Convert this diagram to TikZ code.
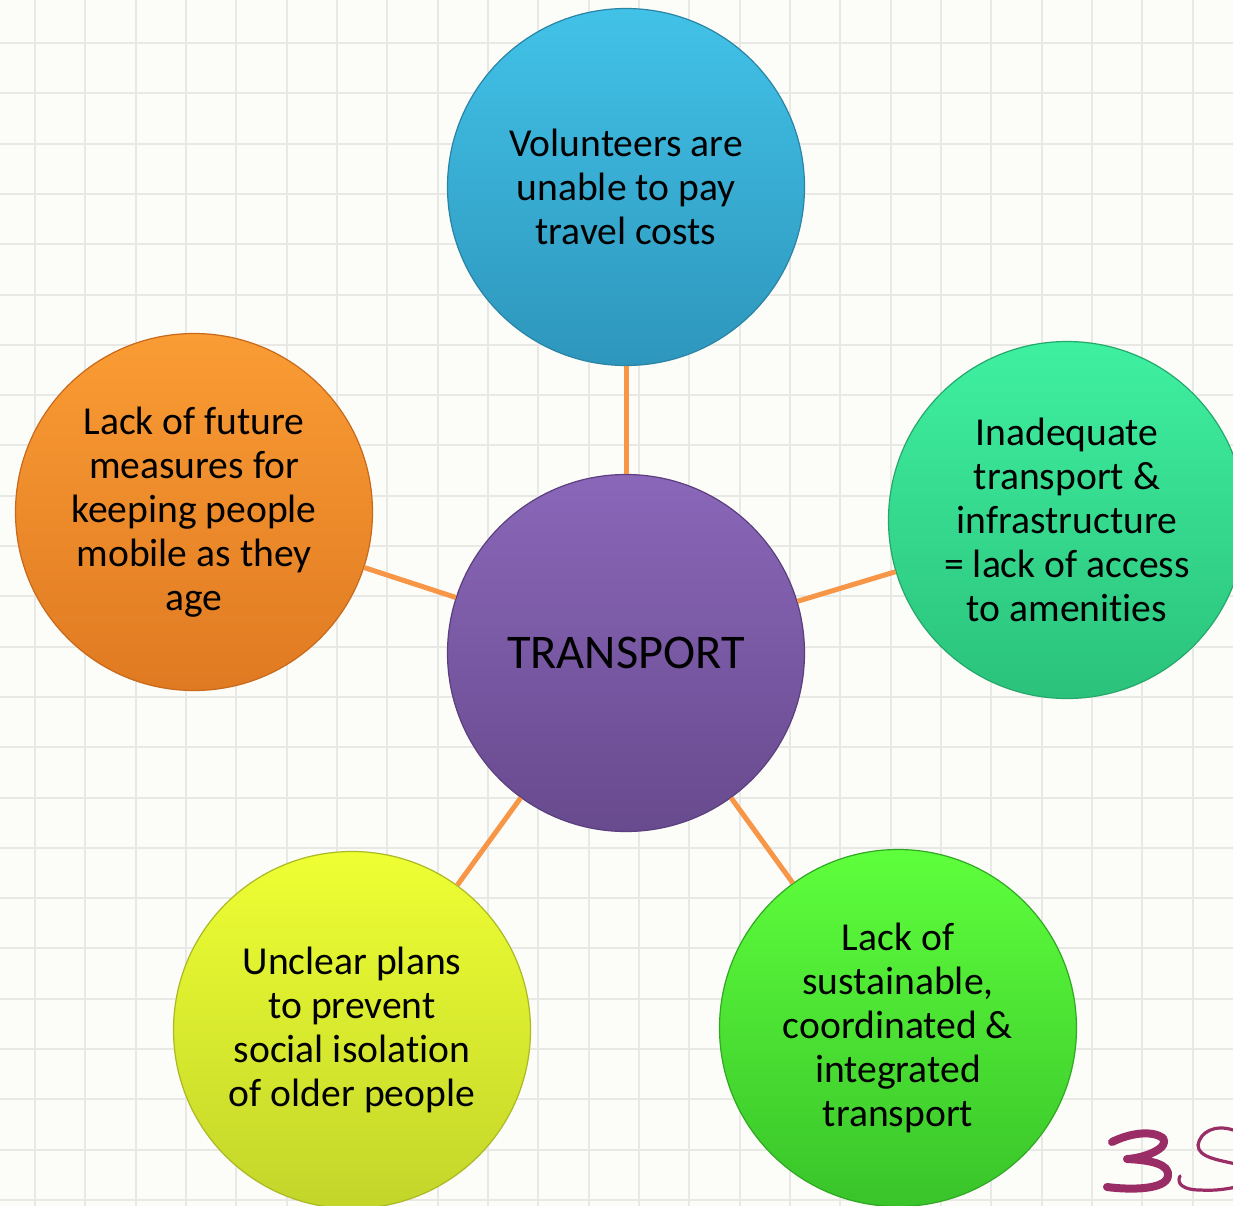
\documentclass[tikz,border=0pt]{standalone}
\usepackage{fontspec}
\setmainfont[Ligatures=NoCommon]{Carlito}
\definecolor{bgcol}{HTML}{FCFCF8}
\definecolor{gridcol}{HTML}{E8E8E4}
\definecolor{linkorange}{HTML}{F79646}
\definecolor{handcol}{HTML}{9A2D66}
\definecolor{blueT}{HTML}{42C2E8}
\definecolor{blueB}{HTML}{2E96BC}
\definecolor{blueE}{HTML}{2A84A6}
\definecolor{purpT}{HTML}{8A67B9}
\definecolor{purpB}{HTML}{684A8E}
\definecolor{purpE}{HTML}{5B3F7E}
\definecolor{oranT}{HTML}{FA9C34}
\definecolor{oranB}{HTML}{E07A22}
\definecolor{oranE}{HTML}{C8691B}
\definecolor{grnT}{HTML}{3FF0A1}
\definecolor{grnB}{HTML}{2BC27B}
\definecolor{grnE}{HTML}{25A86A}
\definecolor{yelT}{HTML}{EEFF33}
\definecolor{yelB}{HTML}{C3D52A}
\definecolor{yelE}{HTML}{AAB924}
\definecolor{limT}{HTML}{5EFF3C}
\definecolor{limB}{HTML}{39C42A}
\definecolor{limE}{HTML}{30A824}
\begin{document}
\begin{tikzpicture}[x=0.5pt,y=-0.5pt,
  bubble/.style={circle, minimum size=178.5pt, inner sep=0pt, align=center,
    font=\fontsize{19.8}{22}\selectfont, text=black, line width=0.6pt},
  link/.style={draw=linkorange, line width=2.5pt},
  gridline/.style={draw=gridcol, line width=1pt},
  hand/.style={draw=handcol, line cap=round, line join=round}]
\useasboundingbox (0,0) rectangle (1233,1206);
\fill[bgcol] (0,0) rectangle (1233,1206);
\foreach \k in {0,...,23} {
  \draw[gridline] ({35+50.33*\k},0) -- ({35+50.33*\k},1206);
  \draw[gridline] (0,{43+50.3*\k}) -- (1233,{43+50.3*\k});
}
\node[bubble, top color=purpT, bottom color=purpB, draw=purpE,
  font=\fontsize{24.2}{28}\selectfont] (center) at (626,653) {TRANSPORT};
\node[bubble, top color=blueT, bottom color=blueB, draw=blueE] (top) at (626,187)
  {Volunteers are\\unable to pay\\travel costs};
\node[bubble, top color=oranT, bottom color=oranB, draw=oranE] (left) at (194,512)
  {Lack of future\\measures for\\keeping people\\mobile as they\\age};
\node[bubble, top color=grnT, bottom color=grnB, draw=grnE] (right) at (1067,520)
  {Inadequate\\transport \&\\infrastructure\\= lack of access\\to amenities};
\node[bubble, top color=yelT, bottom color=yelB, draw=yelE] (botleft) at (352,1030)
  {Unclear plans\\to prevent\\social isolation\\of older people};
\node[bubble, top color=limT, bottom color=limB, draw=limE] (botright) at (898,1028)
  {Lack of\\sustainable,\\coordinated \&\\integrated\\transport};
\draw[link] (center) -- (top);
\draw[link] (center) -- (left);
\draw[link] (center) -- (right);
\draw[link] (center) -- (botleft);
\draw[link] (center) -- (botright);
% handwritten page number
\draw[hand, line width=4pt] (1112,1142) .. controls (1130,1133) and (1152,1130) .. (1163,1138)
  .. controls (1170,1148) and (1145,1158) .. (1127,1159)
  .. controls (1150,1160) and (1170,1164) .. (1168,1176)
  .. controls (1166,1190) and (1130,1190) .. (1107,1187);
\draw[hand, line width=1.6pt] (1233,1130) .. controls (1215,1124) and (1200,1132) .. (1198,1145)
  .. controls (1198,1158) and (1220,1160) .. (1240,1165);
\draw[hand, line width=1.6pt] (1180,1176) .. controls (1176,1184) and (1184,1190) .. (1200,1190)
  .. controls (1215,1191) and (1228,1189) .. (1240,1186);
\end{tikzpicture}
\end{document}
